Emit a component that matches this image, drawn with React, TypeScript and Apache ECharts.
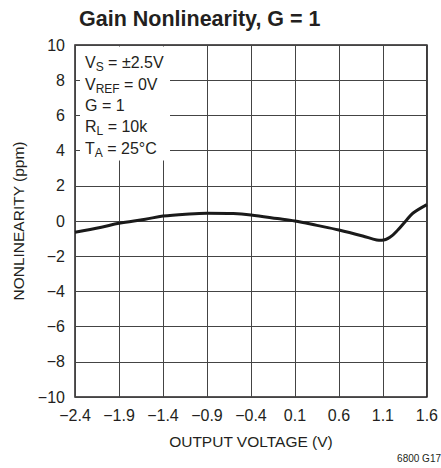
import React, { useEffect, useRef } from "react";
import * as echarts from "echarts";

const xTickStart = -2.4;
const xTickStep = 0.5;
const xTickCount = 8;
const yMin = -10;
const yMax = 10;
const yStep = 2;

const voltage = [-2.4, -2.1, -1.9, -1.6, -1.4, -1.1, -0.9, -0.6, -0.4, -0.1, 0.1, 0.35, 0.6, 0.87, 1.03, 1.09, 1.18, 1.27, 1.37, 1.44, 1.6];
const nonlinearity = [-0.64, -0.35, -0.13, 0.1, 0.28, 0.4, 0.44, 0.42, 0.34, 0.14, 0.0, -0.25, -0.51, -0.85, -1.08, -1.1, -0.93, -0.51, 0.06, 0.44, 0.93];

const titleText = "Gain Nonlinearity, G = 1";
const xName = "OUTPUT VOLTAGE (V)";
const yName = "NONLINEARITY (ppm)";
const noteLines = [
  "V{sub|S} = ±2.5V",
  "V{sub|REF} = 0V",
  "G = 1",
  "R{sub|L} = 10k",
  "T{sub|A} = 25°C",
];
const figCode = "6800 G17";

const fmtMinus = (s: string) => s.replace("-", "\u2212");

export default function App() {
  const ref = useRef<HTMLDivElement>(null);
  useEffect(() => {
    if (!ref.current) return;
    const chart = echarts.init(ref.current, null, { renderer: "svg" });
    const font = "'Liberation Sans', Arial, sans-serif";
    const data = voltage.map((v, i) => [v - xTickStart, nonlinearity[i]]);
    chart.setOption({
      animation: false,
      backgroundColor: "#ffffff",
      title: {
        text: titleText,
        left: 74,
        top: 3,
        textStyle: {
          fontFamily: font,
          fontWeight: "bold",
          fontSize: 21.5,
          color: "#231f20",
        },
      },
      grid: {
        left: 75,
        top: 45,
        width: 352,
        height: 352,
        show: true,
        borderColor: "#231f20",
        borderWidth: 1.5,
        backgroundColor: "transparent",
      },
      xAxis: {
        type: "value",
        min: 0,
        max: xTickStep * xTickCount,
        interval: xTickStep,
        name: xName,
        nameLocation: "middle",
        nameGap: 36,
        nameTextStyle: { fontFamily: font, fontSize: 15.5, color: "#231f20" },
        axisLine: { show: false },
        axisTick: { show: false },
        axisLabel: {
          margin: 10,
          fontFamily: font,
          fontSize: 16,
          color: "#231f20",
          formatter: (v: number) => fmtMinus((v + xTickStart).toFixed(1)),
        },
        splitLine: { show: true, lineStyle: { color: "#444", width: 1 } },
      },
      yAxis: {
        type: "value",
        min: yMin,
        max: yMax,
        interval: yStep,
        name: yName,
        nameLocation: "middle",
        nameGap: 44,
        nameTextStyle: { fontFamily: font, fontSize: 15.5, color: "#231f20" },
        axisLine: { show: false },
        axisTick: { show: false },
        axisLabel: {
          margin: 10,
          fontFamily: font,
          fontSize: 16,
          color: "#231f20",
          formatter: (v: number) => fmtMinus(String(v)),
        },
        splitLine: { show: true, lineStyle: { color: "#444", width: 1 } },
      },
      graphic: [
        {
          type: "rect",
          shape: { x: 80, y: 46.5, width: 90, height: 114 },
          style: { fill: "#ffffff" },
          z: 5,
        },
        {
          type: "text",
          x: 85,
          y: 52,
          z: 6,
          style: {
            text: noteLines.join("\n"),
            fontFamily: font,
            fontSize: 16,
            lineHeight: 21.4,
            fill: "#231f20",
            rich: {
              sub: {
                fontFamily: font,
                fontSize: 12,
                lineHeight: 21.4,
                padding: [9, 0, 0, 0],
                fill: "#231f20",
              },
            },
          },
        },
        {
          type: "text",
          right: 0,
          top: 453,
          style: {
            text: figCode,
            fontFamily: font,
            fontSize: 10,
            fill: "#231f20",
          },
        },
      ],
      series: [
        {
          type: "line",
          data,
          smooth: 0.35,
          showSymbol: false,
          symbol: "none",
          lineStyle: { color: "#1a1a1a", width: 3 },
          z: 3,
        },
      ],
    });
    return () => chart.dispose();
  }, []);
  return <div ref={ref} style={{ width: 441, height: 468, position: "absolute", left: 0, top: 0 }} />;
}
